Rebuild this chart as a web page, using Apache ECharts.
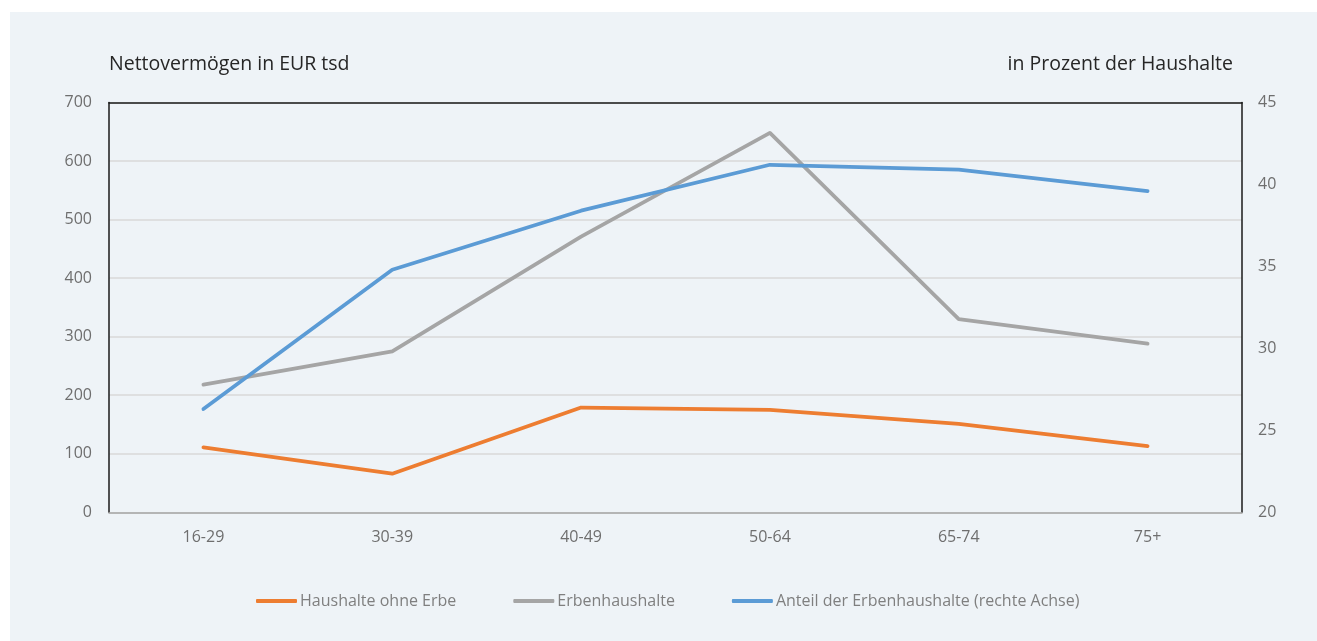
<!DOCTYPE html>
<html>
<head>
<meta charset="utf-8">
<script src="https://cdn.jsdelivr.net/npm/echarts@6/dist/echarts.min.js"></script>
<style>
  html, body { margin: 0; padding: 0; background: #ffffff; }
  #chart { position: absolute; left: 10px; top: 12px; width: 1307px; height: 629px; background: #eef3f7; }
</style>
</head>
<body>
<div id="chart"></div>
<script>
// Altersgruppen der Haushaltsreferenzperson
const categories = ['16-29', '30-39', '40-49', '50-64', '65-74', '75+'];
// Nettovermögen in EUR tsd (linke Achse)
const ohneErbe = [111, 66, 179, 175, 151, 113];
const erben = [218, 275, 471, 648, 330, 288];
// Anteil der Erbenhaushalte in Prozent (rechte Achse)
const anteilErben = [26.3, 34.8, 38.4, 41.2, 40.9, 39.6];

const seriesNames = ['Haushalte ohne Erbe', 'Erbenhaushalte', 'Anteil der Erbenhaushalte (rechte Achse)'];
const FONT = '"Open Sans", sans-serif';

const chart = echarts.init(document.getElementById('chart'), null, { renderer: 'canvas' });

chart.setOption({
  animation: false,
  backgroundColor: 'transparent',
  color: ['#ED7D31', '#A5A5A5', '#5B9BD5'],
  textStyle: { fontFamily: FONT },
  grid: {
    left: 99, right: 75, top: 90.5, bottom: 128.7,
    show: false
  },
  legend: {
    left: 246, top: 581, padding: 0,
    icon: 'roundRect', itemWidth: 41, itemHeight: 4, itemGap: 57,
    textStyle: { color: '#7f7f7f', fontSize: 16, fontFamily: FONT, padding: [0, 0, 0, -2] },
    data: seriesNames
  },
  xAxis: [
    {
      type: 'category',
      data: categories,
      boundaryGap: true,
      position: 'bottom',
      axisLine: { show: true, lineStyle: { color: '#a6a6a6', width: 1.5 } },
      axisTick: { show: false },
      axisLabel: { color: '#6e6e6e', fontSize: 16, margin: 17, fontFamily: FONT }
    },
    {
      // obere Rahmenlinie des Diagramms
      type: 'category',
      data: categories,
      boundaryGap: true,
      position: 'top',
      axisLine: { show: true, lineStyle: { color: '#1a1a1a', width: 1.5 } },
      axisTick: { show: false },
      axisLabel: { show: false },
      splitLine: { show: false }
    }
  ],
  yAxis: [
    {
      type: 'value', min: 0, max: 700, interval: 100, position: 'left',
      name: 'Nettovermögen in EUR tsd', nameLocation: 'end', nameGap: 28,
      nameTextStyle: { color: '#262626', fontSize: 19.5, align: 'left', fontFamily: FONT },
      axisLine: { show: true, lineStyle: { color: '#1a1a1a', width: 1.5 } },
      axisTick: { show: false },
      axisLabel: { color: '#6e6e6e', fontSize: 16, margin: 17, fontFamily: FONT },
      splitLine: { show: true, lineStyle: { color: '#d9d9d9', width: 1.5 } }
    },
    {
      type: 'value', min: 20, max: 45, interval: 5, position: 'right',
      name: 'in Prozent der Haushalte', nameLocation: 'end', nameGap: 28,
      nameTextStyle: { color: '#262626', fontSize: 19.5, align: 'right', padding: [0, 9, 0, 0], fontFamily: FONT },
      axisLine: { show: true, lineStyle: { color: '#1a1a1a', width: 1.5 } },
      axisTick: { show: false },
      axisLabel: { color: '#6e6e6e', fontSize: 16, margin: 16, fontFamily: FONT },
      splitLine: { show: false }
    }
  ],
  series: [
    {
      name: seriesNames[0], type: 'line', yAxisIndex: 0, data: ohneErbe,
      symbol: 'none', lineStyle: { width: 3.75, cap: 'round', join: 'round' }
    },
    {
      name: seriesNames[1], type: 'line', yAxisIndex: 0, data: erben,
      symbol: 'none', lineStyle: { width: 3.75, cap: 'round', join: 'round' }
    },
    {
      name: seriesNames[2], type: 'line', yAxisIndex: 1, data: anteilErben,
      symbol: 'none', lineStyle: { width: 3.75, cap: 'round', join: 'round' }
    }
  ]
});
</script>
</body>
</html>
